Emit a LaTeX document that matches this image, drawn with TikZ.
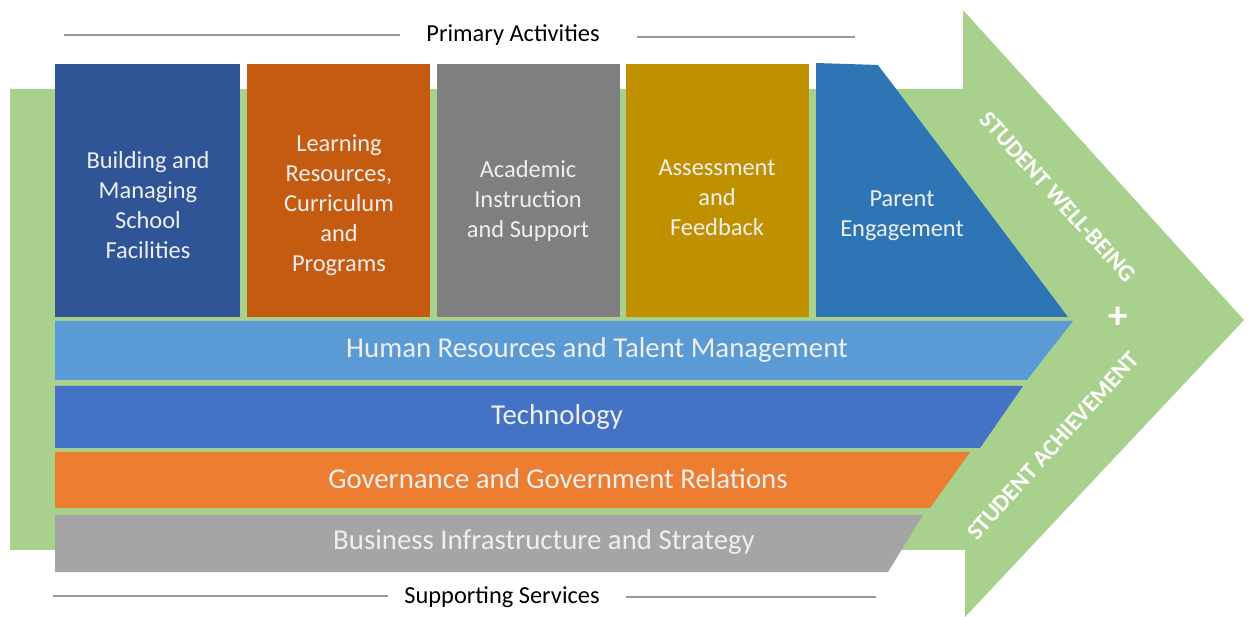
\documentclass[tikz,border=0pt]{standalone}
\usepackage{fontspec}
\setmainfont{Carlito}
\usepackage{tikz}
\usepackage{xcolor}
\usetikzlibrary{calc}
\definecolor{arrowgreen}{HTML}{A9D18E}
\definecolor{boxa}{HTML}{2F5597}
\definecolor{boxb}{HTML}{C55A11}
\definecolor{boxc}{HTML}{7F7F7F}
\definecolor{boxd}{HTML}{BF9000}
\definecolor{boxe}{HTML}{2E75B6}
\definecolor{bara}{HTML}{5B9BD5}
\definecolor{barb}{HTML}{4472C4}
\definecolor{barc}{HTML}{ED7D31}
\definecolor{bard}{HTML}{A5A5A5}
\definecolor{softwhite}{HTML}{EFEFEF}
\definecolor{rulegrey}{HTML}{9A9A9A}

\begin{document}
\begin{tikzpicture}[x=0.02cm,y=-0.02cm]
        \tikzstyle{every node}=[inner sep=0pt, outer sep=0pt]
        \tikzstyle{prim}=[anchor=north west, minimum height=5.06cm]
        \tikzstyle{boxtext}=[align=center, text=softwhite, font=\fontsize{13.9}{17.1}\selectfont]
        \tikzstyle{bartext}=[text=softwhite, font=\fontsize{16.4}{19}\selectfont]
        \tikzstyle{outcome}=[text=white, font=\fontsize{13.6}{16}\selectfont\bfseries]
        \tikzstyle{rule}=[draw=rulegrey, line width=0.6pt]
        \useasboundingbox (0,0) rectangle (1250,617);

        \fill[arrowgreen] (10,89) -- (963,89) -- (963,10) -- (1244,320)
                -- (965,617) -- (965,550) -- (10,550) -- cycle;

        \node[prim, fill=boxa, minimum width=3.70cm] (b1) at (55,64) {};
        \node[prim, fill=boxb, minimum width=3.66cm] (b2) at (247,64) {};
        \node[prim, fill=boxc, minimum width=3.66cm] (b3) at (437,64) {};
        \node[prim, fill=boxd, minimum width=3.66cm] (b4) at (626,64) {};
        \fill[boxe] (816,63) -- (878,65) -- (1068,317) -- (816,317) -- cycle;

        \node[boxtext] (t1) at (148,205) {Building and\\Managing\\School\\Facilities};
        \node[boxtext] (t2) at (339,205) {Learning\\Resources,\\Curriculum\\and\\Programs};
        \node[boxtext] (t3) at (528,201) {Academic\\Instruction\\and Support};
        \node[boxtext] (t4) at (717,198) {Assessment\\and\\Feedback};
        \node[boxtext] (t5) at (902,216) {Parent\\Engagement};

        \fill[bara] (55,321) -- (1073,321) -- (1027,380) -- (55,380) -- cycle;
        \fill[barb] (55,386) -- (1023,386) -- (980,448) -- (55,448) -- cycle;
        \fill[barc] (55,452) -- (970,452) -- (930,508) -- (55,508) -- cycle;
        \fill[bard] (55,515) -- (923,515) -- (888,572) -- (55,572) -- cycle;

        \node[bartext] (s1) at (597,350) {Human Resources and Talent Management};
        \node[bartext] (s2) at (557,417) {Technology};
        \node[bartext] (s3) at (558,479) {Governance and Government Relations};
        \node[bartext] (s4) at (544,542) {Business Infrastructure and Strategy};

        \node[font=\fontsize{13.9}{17}\selectfont] (prim) at (513,35) {Primary Activities};
        \node[font=\fontsize{13.9}{17}\selectfont] (supp) at (502,597) {Supporting Services};
        \draw[rule] (64,35) -- (400,35);
        \draw[rule] (637,37) -- (855,37);
        \draw[rule] (53,596) -- (388,596);
        \draw[rule] (626,597) -- (876,597);

        \node[outcome, rotate=-48] (w1) at (1058,197) {STUDENT WELL-BEING};
        \node[outcome, rotate=48] (w2) at (1053,446) {STUDENT ACHIEVEMENT};
        \node[text=white, font=\fontsize{22}{22}\selectfont\bfseries] (plus) at (1118,318) {+};
    \end{tikzpicture}
\end{document}
